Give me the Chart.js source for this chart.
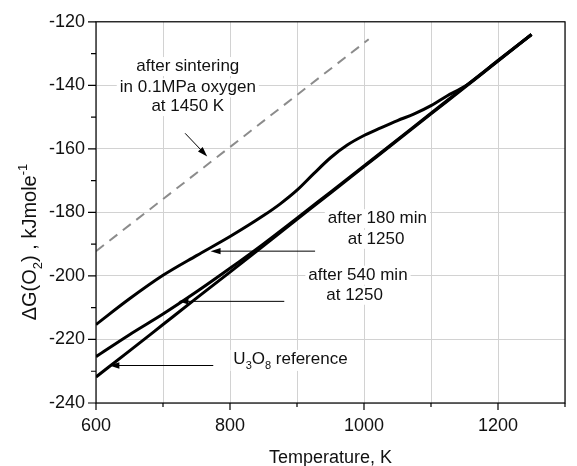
<!DOCTYPE html>
<html>
<head>
<meta charset="utf-8">
<script src="https://cdn.jsdelivr.net/npm/chart.js@4.4.1/dist/chart.umd.min.js"></script>
<style>
  html, body { margin: 0; padding: 0; background: #fff; }
</style>
</head>
<body>
<canvas id="chart" width="577" height="466"></canvas>
<script>
// values (temperature in K, dG(O2) in kJ/mole)
const tempsUpper = [600, 650, 700, 750, 800, 850, 875, 900, 925, 950, 975, 1000, 1025, 1050, 1075, 1100, 1125, 1150, 1200, 1250];
const after180 = [-215.3, -207.2, -199.8, -193.6, -187.6, -181.0, -177.3, -173.0, -167.8, -162.8, -158.8, -155.8, -153.4, -151.1, -149.0, -146.4, -143.2, -140.4, -132.2, -124.0];

const temps = [600, 650, 700, 750, 800, 850, 900, 950, 1000, 1050, 1100, 1150, 1200, 1250];
const after540 = [-225.4, -218.5, -212.0, -205.0, -197.6, -189.9, -181.8, -173.6, -165.4, -157.1, -148.8, -140.5, -132.2, -124.0];
const u3o8Ref = [-231.8, -223.6, -215.3, -207.0, -198.8, -190.5, -182.2, -173.9, -165.6, -157.3, -149.0, -140.7, -132.4, -124.0];

const sinterTemps = [600, 1007];
const afterSinter = [-192.2, -125.5];

const xMin = 600, xMax = 1300, xStep = 100, xLabelStep = 200;
const yMin = -240, yMax = -120, yStep = 10, yLabelStep = 20;

const FONT = "'Liberation Sans', Arial, sans-serif";

// annotation texts, anchored in data units (center x, baseline y)
const notes = [
    { text: 'after sintering', x: 737, y: -135.5 },
    { text: 'in 0.1MPa oxygen', x: 737, y: -142.2 },
    { text: 'at 1450 K', x: 737, y: -148.1 },
    { text: 'after 180 min', x: 1020, y: -183.4 },
    { text: 'at 1250', x: 1018, y: -189.9 },
    { text: 'after 540 min', x: 991, y: -201.2 },
    { text: 'at 1250', x: 986, y: -207.5 }
];
// arrows: from (x1,y1) to head at (x2,y2)
const arrows = [
    [733, -155.1, 766, -162.4],
    [927, -192.2, 771, -192.2],
    [881, -208.0, 723, -208.0],
    [775, -228.2, 620, -228.2]
];

function pts(xs, ys) {
    return xs.map((x, i) => ({ x: x, y: ys[i] }));
}

function drawArrow(ctx, x1, y1, x2, y2) {
    const ang = Math.atan2(y2 - y1, x2 - x1);
    ctx.beginPath();
    ctx.moveTo(x1, y1);
    ctx.lineTo(x2 - Math.cos(ang) * 6, y2 - Math.sin(ang) * 6);
    ctx.stroke();
    ctx.beginPath();
    ctx.moveTo(x2, y2);
    ctx.lineTo(x2 - Math.cos(ang) * 10 + Math.sin(ang) * 3.2, y2 - Math.sin(ang) * 10 - Math.cos(ang) * 3.2);
    ctx.lineTo(x2 - Math.cos(ang) * 10 - Math.sin(ang) * 3.2, y2 - Math.sin(ang) * 10 + Math.cos(ang) * 3.2);
    ctx.closePath();
    ctx.fill();
}

// runs of [text, kind] where kind is 'n', 'sub' or 'sup'
function richWidth(ctx, parts, size) {
    let w = 0;
    parts.forEach(p => {
        ctx.font = (p[1] === 'n' ? size : Math.round(size * 0.65)) + 'px ' + FONT;
        w += ctx.measureText(p[0]).width;
    });
    return w;
}
function drawRich(ctx, parts, x, y, size) {
    let cx = x;
    parts.forEach(p => {
        let dy = 0;
        if (p[1] === 'n') ctx.font = size + 'px ' + FONT;
        else ctx.font = Math.round(size * 0.65) + 'px ' + FONT;
        if (p[1] === 'sub') dy = size * 0.3;
        if (p[1] === 'sup') dy = -size * 0.45;
        ctx.fillText(p[0], cx, y + dy);
        cx += ctx.measureText(p[0]).width;
    });
}

const annotations = {
    id: 'annotations',
    beforeDatasetsDraw(chart) {
        const ctx = chart.ctx;
        const xs = chart.scales.x, ys = chart.scales.y;
        ctx.save();
        ctx.textBaseline = 'alphabetic';
        ctx.font = '17px ' + FONT;
        notes.forEach(n => {
            const w = ctx.measureText(n.text).width;
            const px = xs.getPixelForValue(n.x), py = ys.getPixelForValue(n.y);
            ctx.fillStyle = '#fff';
            ctx.fillRect(px - w / 2 - 3, py - 14, w + 6, 19);
            ctx.fillStyle = '#111';
            ctx.textAlign = 'center';
            ctx.fillText(n.text, px, py);
        });
        // U3O8 reference with subscripts
        ctx.textAlign = 'left';
        const parts = [['U', 'n'], ['3', 'sub'], ['O', 'n'], ['8', 'sub'], [' reference', 'n']];
        const ux = xs.getPixelForValue(805), uy = ys.getPixelForValue(-227.7);
        const uw = richWidth(ctx, parts, 17);
        ctx.fillStyle = '#fff';
        ctx.fillRect(ux - 3, uy - 14, uw + 6, 21);
        ctx.fillStyle = '#111';
        drawRich(ctx, parts, ux, uy, 17);
        ctx.restore();
    },
    afterDatasetsDraw(chart) {
        const ctx = chart.ctx;
        const xs = chart.scales.x, ys = chart.scales.y;
        const a = chart.chartArea;
        ctx.save();
        ctx.strokeStyle = '#000';
        ctx.fillStyle = '#000';
        ctx.lineWidth = 1;
        arrows.forEach(r => {
            drawArrow(ctx, xs.getPixelForValue(r[0]), ys.getPixelForValue(r[1]),
                xs.getPixelForValue(r[2]), ys.getPixelForValue(r[3]));
        });

        // frame
        ctx.lineWidth = 1.2;
        ctx.strokeRect(a.left, a.top, a.right - a.left, a.bottom - a.top);

        // tick marks, longer at labelled values
        ctx.beginPath();
        xs.ticks.forEach(t => {
            const px = xs.getPixelForValue(t.value);
            const len = t.value % xLabelStep === 0 ? 7 : 4;
            ctx.moveTo(px, a.bottom);
            ctx.lineTo(px, a.bottom + len);
        });
        ys.ticks.forEach(t => {
            const py = ys.getPixelForValue(t.value);
            const len = t.value % yLabelStep === 0 ? 8 : 5;
            ctx.moveTo(a.left, py);
            ctx.lineTo(a.left - len, py);
        });
        ctx.stroke();

        // axis titles
        ctx.fillStyle = '#111';
        ctx.textAlign = 'center';
        ctx.textBaseline = 'middle';
        ctx.font = '18px ' + FONT;
        ctx.fillText('Temperature, K', (a.left + a.right) / 2, 458);

        const title = [['\u0394G(O', 'n'], ['2', 'sub'], [') , kJmole', 'n'], ['-1', 'sup']];
        ctx.translate(29, 242);
        ctx.rotate(-Math.PI / 2);
        ctx.textAlign = 'left';
        ctx.textBaseline = 'alphabetic';
        const tw = richWidth(ctx, title, 20);
        drawRich(ctx, title, -tw / 2, 7, 20);
        ctx.restore();
    }
};

const gridColor = '#d2d2d2';

new Chart(document.getElementById('chart'), {
    type: 'scatter',
    data: {
        datasets: [
            {
                label: 'after sintering in 0.1MPa oxygen at 1450 K',
                data: pts(sinterTemps, afterSinter),
                showLine: true,
                borderColor: '#8c8c8c',
                borderWidth: 2,
                borderDash: [10, 7],
                pointRadius: 0
            },
            {
                label: 'after 180 min at 1250',
                data: pts(tempsUpper, after180),
                showLine: true,
                borderColor: '#000',
                borderWidth: 3,
                cubicInterpolationMode: 'monotone',
                pointRadius: 0
            },
            {
                label: 'after 540 min at 1250',
                data: pts(temps, after540),
                showLine: true,
                borderColor: '#000',
                borderWidth: 3,
                cubicInterpolationMode: 'monotone',
                pointRadius: 0
            },
            {
                label: 'U3O8 reference',
                data: pts(temps, u3o8Ref),
                showLine: true,
                borderColor: '#000',
                borderWidth: 3,
                cubicInterpolationMode: 'monotone',
                pointRadius: 0
            }
        ]
    },
    options: {
        responsive: false,
        animation: false,
        events: [],
        layout: { padding: { left: 0, top: 17, right: 1.5, bottom: 0 } },
        plugins: {
            legend: { display: false },
            tooltip: { enabled: false }
        },
        scales: {
            x: {
                type: 'linear',
                min: xMin,
                max: xMax,
                afterFit: (s) => { s.height = 63; },
                border: { display: false },
                grid: { color: gridColor, lineWidth: 1, drawTicks: false },
                ticks: {
                    stepSize: xStep,
                    autoSkip: false,
                    maxRotation: 0,
                    padding: 12,
                    color: '#111',
                    font: { family: FONT, size: 18 },
                    callback: (v) => (v % xLabelStep === 0 ? String(v) : '')
                }
            },
            y: {
                type: 'linear',
                min: yMin,
                max: yMax,
                afterFit: (s) => { s.width = 96; },
                border: { display: false },
                grid: {
                    color: (c) => (c.tick && c.tick.value % yLabelStep === 0 ? gridColor : 'rgba(0,0,0,0)'),
                    lineWidth: 1,
                    drawTicks: false
                },
                ticks: {
                    stepSize: yStep,
                    autoSkip: false,
                    padding: 11,
                    color: '#111',
                    font: { family: FONT, size: 18 },
                    callback: (v) => (v % yLabelStep === 0 ? String(v) : '')
                }
            }
        }
    },
    plugins: [annotations]
});
</script>
</body>
</html>
